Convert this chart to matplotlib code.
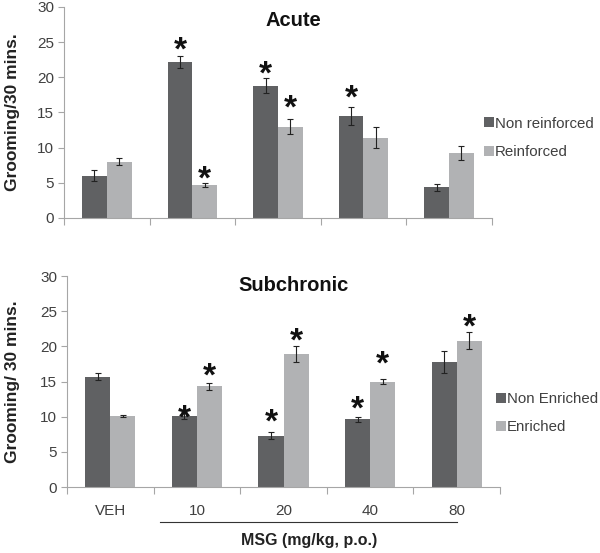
import numpy as np
import matplotlib
matplotlib.use("Agg")
import matplotlib.pyplot as plt

plt.rcParams['font.family'] = ['Liberation Sans', 'DejaVu Sans']

# data
groups = ["VEH", "10", "20", "40", "80"]

acute_nonrein = [6.0, 22.2, 18.8, 14.5, 4.4]
acute_nonrein_err = [0.8, 0.9, 1.1, 1.3, 0.5]
acute_rein = [8.0, 4.7, 13.0, 11.4, 9.3]
acute_rein_err = [0.5, 0.3, 1.1, 1.5, 1.0]
# height of the significance asterisks (None = no asterisk)
acute_star_nonrein = [None, 24.75, 21.3, 17.9, None]
acute_star_rein = [None, 6.4, 16.4, None, None]

sub_nonenr = [15.7, 10.1, 7.3, 9.6, 17.8]
sub_nonenr_err = [0.5, 0.5, 0.5, 0.4, 1.6]
sub_enr = [10.1, 14.3, 18.9, 15.0, 20.8]
sub_enr_err = [0.2, 0.5, 1.1, 0.4, 1.2]
sub_star_nonenr = [None, 10.7, 10.0, 11.9, None]
sub_star_enr = [None, 16.6, 21.6, 18.3, 23.5]

dark = "#606163"
light = "#b1b2b4"
spine_col = "#a6a6a6"
txt_col = "#404040"

fig = plt.figure(figsize=(6.0, 5.53), dpi=100)
ax1 = fig.add_axes([0.1067, 0.6058, 0.713, 0.3816])
ax2 = fig.add_axes([0.1117, 0.1193, 0.7217, 0.3816])

x = np.arange(len(groups))
w = 0.29
star_fs = 24


def draw_panel(ax, v1, e1, s1, v2, e2, s2, labels, title, title_xy,
               ylab, ylab_x, show_x):
    ax.bar(x - w/2, v1, w, color=dark, label=labels[0], zorder=2)
    ax.bar(x + w/2, v2, w, color=light, label=labels[1], zorder=2)
    ax.errorbar(x - w/2, v1, yerr=e1, fmt='none', ecolor="#222222",
                elinewidth=0.8, capsize=2.5, capthick=0.8, zorder=3)
    ax.errorbar(x + w/2, v2, yerr=e2, fmt='none', ecolor="#222222",
                elinewidth=0.8, capsize=2.5, capthick=0.8, zorder=3)
    for xs, ss in [(x - w/2, s1), (x + w/2, s2)]:
        for xi, sy in zip(xs, ss):
            if sy is not None:
                ax.annotate("*", (xi, sy), xytext=(0, -0.46*star_fs),
                            textcoords='offset points', ha='center',
                            va='baseline', fontsize=star_fs,
                            fontweight='bold', color="#111111", zorder=4)
    ax.set_xlim(-0.5, len(groups) - 0.5)
    ax.set_ylim(0, 30)
    ax.set_yticks(np.arange(0, 31, 5))
    ax.tick_params(axis='y', labelsize=11, colors=txt_col, length=4,
                   width=0.8, color=spine_col, pad=3)
    ax.set_xticks(x)
    if show_x:
        ax.set_xticklabels(groups, fontsize=11, color=txt_col)
    else:
        ax.set_xticklabels([])
    ax.tick_params(axis='x', length=0, pad=12)
    ax.set_xticks(np.arange(-0.5, len(groups), 1.0), minor=True)
    ax.tick_params(axis='x', which='minor', length=5, width=0.8,
                   color=spine_col)
    for sp in ['top', 'right']:
        ax.spines[sp].set_visible(False)
    for sp in ['left', 'bottom']:
        ax.spines[sp].set_color(spine_col)
        ax.spines[sp].set_linewidth(0.8)
    ax.set_ylabel(ylab, fontsize=12.5, fontweight='bold', color="#222222")
    ax.yaxis.set_label_coords(ylab_x, 0.5)
    ax.text(title_xy[0], title_xy[1], title, transform=ax.transAxes,
            ha='center', va='center', fontsize=14.5, fontweight='bold',
            color="#111111")


draw_panel(ax1, acute_nonrein, acute_nonrein_err, acute_star_nonrein,
           acute_rein, acute_rein_err, acute_star_rein,
           ["Non reinforced", "Reinforced"], "Acute", (0.535, 0.938),
           "Grooming/30 mins.", -0.103, False)
draw_panel(ax2, sub_nonenr, sub_nonenr_err, sub_star_nonenr,
           sub_enr, sub_enr_err, sub_star_enr,
           ["Non Enriched", "Enriched"], "Subchronic", (0.524, 0.957),
           "Grooming/ 30 mins.", -0.109, True)

for ax, ypos, xpos in [(ax1, 0.751, 0.789), (ax2, 0.253, 0.809)]:
    ax.legend(loc='center left', bbox_to_anchor=(xpos, ypos),
              bbox_transform=fig.transFigure, frameon=False, fontsize=10.8,
              handlelength=0.65, handleheight=0.65, handletextpad=0.1,
              labelspacing=0.95, borderpad=0.2, labelcolor=txt_col)

# bracket under the MSG doses
ax2.plot([0.57, 4.0], [-0.166, -0.166], transform=ax2.get_xaxis_transform(),
         color="#333333", lw=0.8, clip_on=False)
ax2.text(2.3, -0.255, "MSG (mg/kg, p.o.)", transform=ax2.get_xaxis_transform(),
         ha='center', va='center', fontsize=11.5, fontweight='bold',
         color="#222222")

fig.savefig("out.png", dpi=100)
